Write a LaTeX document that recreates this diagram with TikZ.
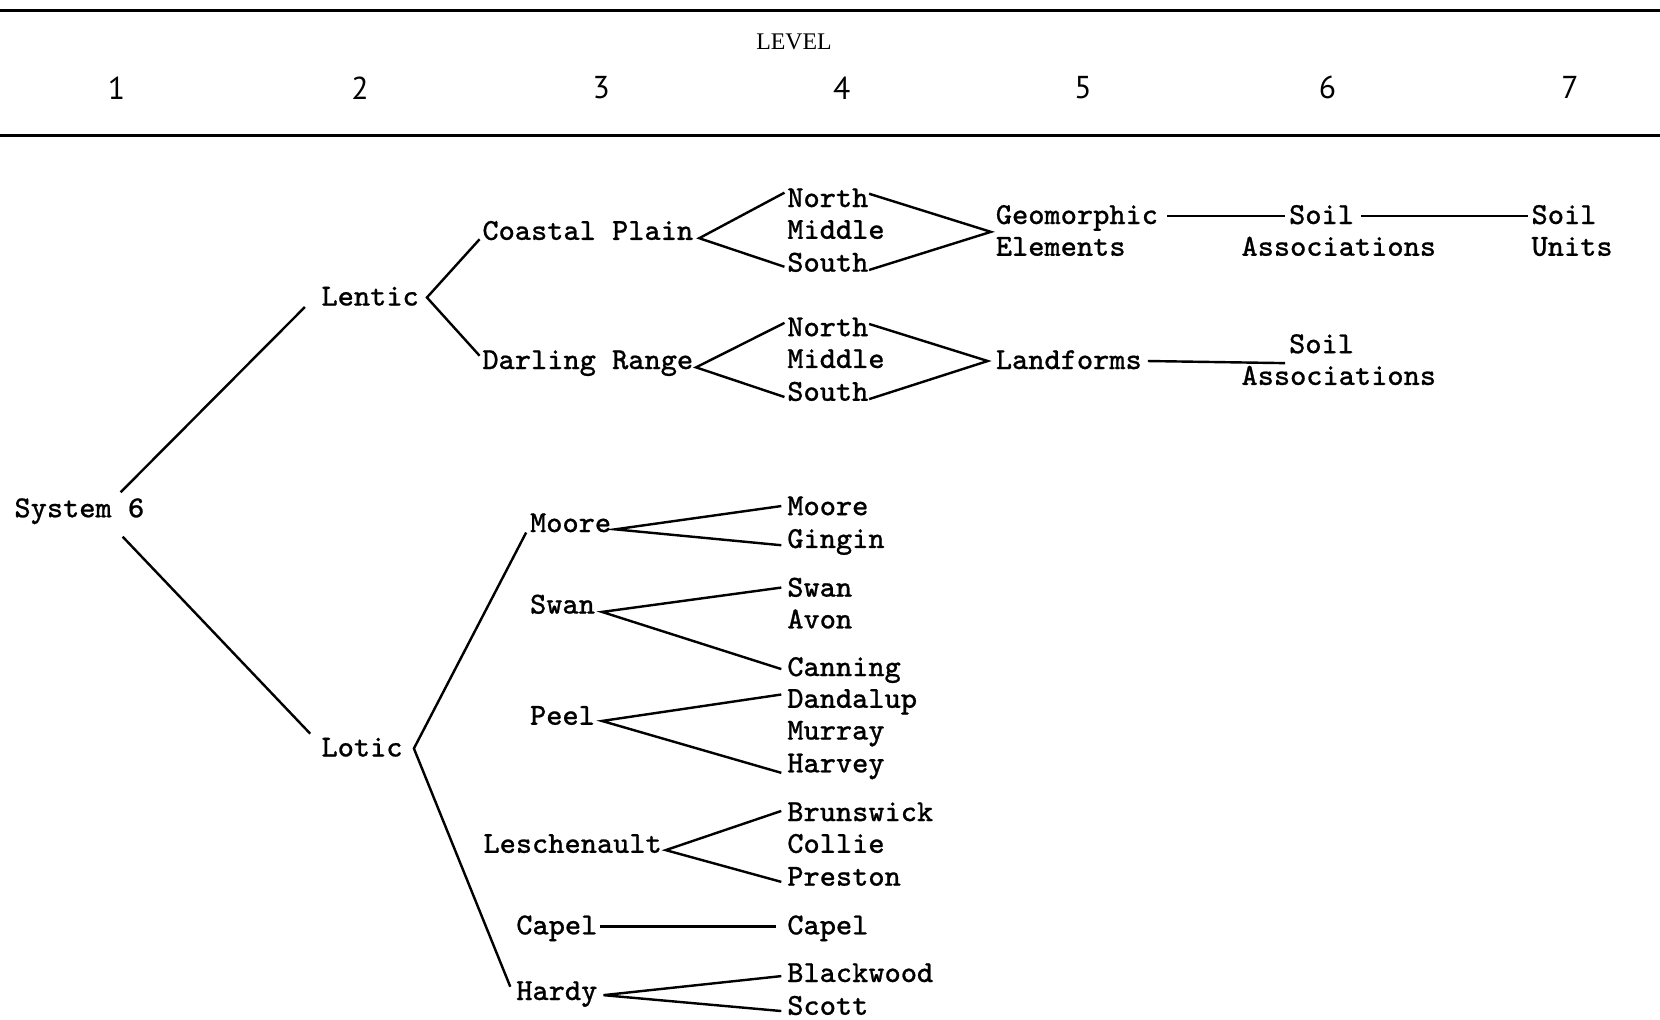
\documentclass[tikz,border=0pt]{standalone}
\usepackage{fontspec}
\usetikzlibrary{calc}
\newfontfamily\tw[FakeBold=0.8]{Latin Modern Mono}
\newfontfamily\hdr{PT Sans}
\newfontfamily\lvl{Liberation Serif}
\begin{document}
\begin{tikzpicture}[x=0.01cm,y=-0.01cm,
  lab/.style={font=\tw\fontsize{8.2}{9}\selectfont, inner sep=0pt, anchor=mid west},
  num/.style={font=\hdr\fontsize{8.5}{10}\selectfont, inner sep=0pt},
  con/.style={line width=0.65pt},
  rule/.style={line width=1pt}]
\useasboundingbox (0,0) rectangle (1568,963);
% header
\coordinate (r1a) at (0,10); \coordinate (r1b) at (1568,10);
\coordinate (r2a) at (0,128); \coordinate (r2b) at (1568,128);
\draw[rule] (r1a) -- (r1b);
\draw[rule] (r2a) -- (r2b);
\node[font=\lvl\fontsize{6.4}{7}\selectfont, inner sep=0pt] (level) at (750,40) {LEVEL};
\node[num] (l1) at (110,83) {1};
\node[num] (l2) at (340,83) {2};
\node[num] (l3) at (568,83) {3};
\node[num] (l4) at (795,83) {4};
\node[num] (l5) at (1023,83) {5};
\node[num] (l6) at (1254,83) {6};
\node[num] (l7) at (1483,83) {7};
% level 1-3
\node[lab] (sys) at (13,481) {System 6};
\node[lab] (len) at (303,281) {Lentic};
\node[lab] (lot) at (303,707) {Lotic};
\node[lab] (cp) at (455,219) {Coastal Plain};
\node[lab] (dr) at (455,341) {Darling Range};
% lentic level 4
\node[lab] (n1) at (743,188) {North};
\node[lab] (m1) at (743,218) {Middle};
\node[lab] (s1) at (743,249) {South};
\node[lab] (n2) at (743,310) {North};
\node[lab] (m2) at (743,340) {Middle};
\node[lab] (s2) at (743,371) {South};
% level 5-7
\node[lab] (ge1) at (940,204) {Geomorphic};
\node[lab] (ge2) at (940,234) {Elements};
\node[lab] (soil1) at (1217,204) {Soil};
\node[lab] (asc1) at (1172,234) {Associations};
\node[lab] (soil2) at (1446,204) {Soil};
\node[lab] (units) at (1446,234) {Units};
\node[lab] (land) at (940,341) {Landforms};
\node[lab] (soil3) at (1217,326) {Soil};
\node[lab] (asc3) at (1172,356) {Associations};
% lotic level 3
\node[lab] (moore) at (500,495) {Moore};
\node[lab] (swan) at (500,572) {Swan};
\node[lab] (peel) at (500,677) {Peel};
\node[lab] (lesch) at (456,798) {Leschenault};
\node[lab] (capel) at (487,875) {Capel};
\node[lab] (hardy) at (487,937) {Hardy};
% lotic level 4
\node[lab] (mooreL) at (743,479) {Moore};
\node[lab] (gingin) at (743,510) {Gingin};
\node[lab] (swanL) at (743,556) {Swan};
\node[lab] (avon) at (743,586) {Avon};
\node[lab] (canning) at (743,631) {Canning};
\node[lab] (dand) at (743,661) {Dandalup};
\node[lab] (murray) at (743,691) {Murray};
\node[lab] (harvey) at (743,722) {Harvey};
\node[lab] (bruns) at (743,768) {Brunswick};
\node[lab] (collie) at (743,798) {Collie};
\node[lab] (preston) at (743,829) {Preston};
\node[lab] (capelL) at (743,875) {Capel};
\node[lab] (black) at (743,920) {Blackwood};
\node[lab] (scott) at (743,951) {Scott};
% connectors
\draw[con] ($(sys.mid east)+(-23,-16)$) -- ($(len.mid west)+(-15,9)$);
\draw[con] ($(sys.mid east)+(-21,26)$) -- ($(lot.mid west)+(-10,-14)$);
\draw[con] ($(cp.mid west)+(-2,7)$) -- ($(len.mid east)+(7,0)$) -- ($(dr.mid west)+(-2,-5)$);
\draw[con] ($(n1.mid west)+(-2,-6)$) -- ($(cp.mid east)+(5,6)$) -- ($(s1.mid west)+(-2,3)$);
\draw[con] ($(n1.mid east)+(0,-5)$) -- ($($(ge1.mid west)!0.5!(ge2.mid west)$)+(-4,0)$) -- ($(s1.mid east)+(0,6)$);
\draw[con] ($(n2.mid west)+(-2,-5)$) -- ($(dr.mid east)+(2,6)$) -- ($(s2.mid west)+(-2,4)$);
\draw[con] ($(n2.mid east)+(0,-4)$) -- ($(land.mid west)+(-7,0)$) -- ($(s2.mid east)+(0,6)$);
\draw[con] ($(ge1.mid east)+(8,0)$) -- ($(soil1.mid west)+(-3,0)$);
\draw[con] ($(soil1.mid east)+(6,0)$) -- ($(soil2.mid west)+(-3,0)$);
\draw[con] ($(land.mid east)+(5,0)$) -- ($(soil3.mid west |- land.mid east)+(-3,2)$);
\draw[con] ($(moore.mid west)+(-3,8)$) -- ($(lot.mid east)+(10,0)$) -- ($(hardy.mid west)+(-5,-5)$);
\draw[con] ($(mooreL.mid west)+(-5,-1)$) -- ($(moore.mid east)+(3,5)$) -- ($(gingin.mid west)+(-5,5)$);
\draw[con] ($(swanL.mid west)+(-5,-1)$) -- ($(swan.mid east)+(6,6)$) -- ($(canning.mid west)+(-5,1)$);
\draw[con] ($(dand.mid west)+(-5,-5)$) -- ($(peel.mid east)+(6,4)$) -- ($(harvey.mid west)+(-5,8)$);
\draw[con] ($(bruns.mid west)+(-5,-2)$) -- ($(lesch.mid east)+(3,5)$) -- ($(preston.mid west)+(-5,4)$);
\draw[con] ($(capel.mid east)+(2,0)$) -- ($(capelL.mid west)+(-10,0)$);
\draw[con] ($(black.mid west)+(-5,2)$) -- ($(hardy.mid east)+(5,3)$) -- ($(scott.mid west)+(-5,4)$);
\end{tikzpicture}
\end{document}
